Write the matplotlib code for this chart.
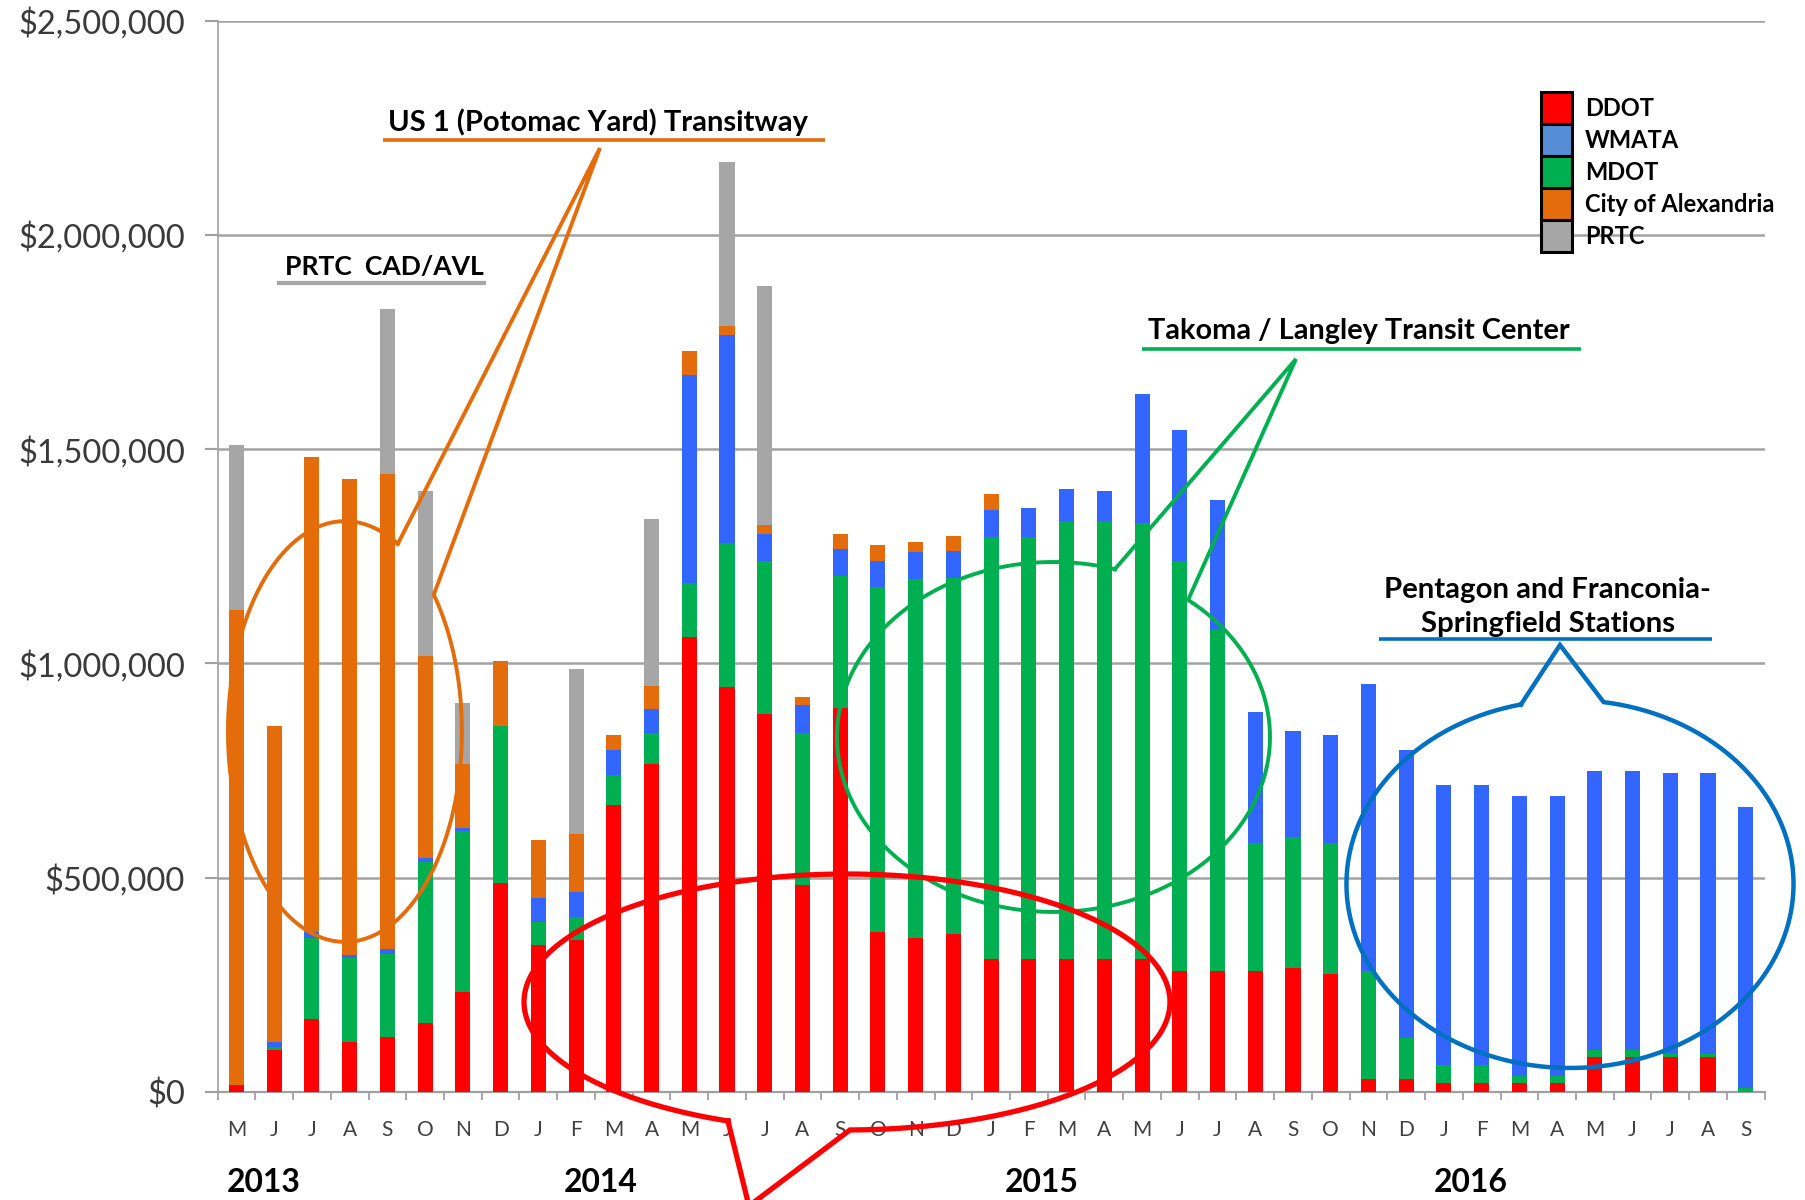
import numpy as np
import matplotlib
matplotlib.use("Agg")
import matplotlib.pyplot as plt
from matplotlib.patches import Patch
from matplotlib.ticker import FuncFormatter, FixedLocator

plt.rcParams['font.family'] = ['Lato', 'DejaVu Sans']

# ---------------- data (thousands of dollars) ----------------
months = ['M', 'J', 'J', 'A', 'S', 'O', 'N', 'D',
          'J', 'F', 'M', 'A', 'M', 'J', 'J', 'A', 'S', 'O', 'N', 'D',
          'J', 'F', 'M', 'A', 'M', 'J', 'J', 'A', 'S', 'O', 'N', 'D',
          'J', 'F', 'M', 'A', 'M', 'J', 'J', 'A', 'S']
years = ['2013', '2014', '2015', '2016']

ddot = [15, 98, 170, 116, 129, 161, 232, 488,
        342, 354, 670, 766, 1062, 944, 882, 482, 895, 373, 360, 368,
        311, 311, 311, 311, 311, 281, 281, 281, 288, 275, 29, 29,
        20, 20, 20, 20, 82, 82, 82, 82, 0]
mdot = [0, 6, 190, 196, 192, 375, 377, 366,
        54, 54, 70, 71, 125, 336, 358, 355, 309, 806, 838, 832,
        985, 985, 1021, 1021, 1017, 957, 797, 299, 306, 305, 252, 96,
        43, 43, 16, 16, 16, 16, 7, 7, 9]
wmata = [0, 12, 12, 8, 12, 10, 8, 0,
         57, 58, 59, 57, 487, 487, 61, 67, 63, 61, 63, 63,
         63, 67, 74, 70, 301, 307, 303, 306, 248, 253, 672, 672,
         654, 654, 654, 654, 650, 650, 655, 655, 656]
alexandria = [1110, 738, 1110, 1110, 1109, 472, 149, 152,
              135, 137, 34, 54, 54, 20, 22, 17, 36, 36, 22, 34,
              36, 0, 0, 0, 0, 0, 0, 0, 0, 0, 0, 0,
              0, 0, 0, 0, 0, 0, 0, 0, 0]
prtc = [384, 0, 0, 0, 386, 384, 142, 0,
        0, 384, 0, 388, 0, 384, 558, 0, 0, 0, 0, 0,
        0, 0, 0, 0, 0, 0, 0, 0, 0, 0, 0, 0,
        0, 0, 0, 0, 0, 0, 0, 0, 0]

series = [('DDOT', ddot, '#FF0000'),
          ('MDOT', mdot, '#00B050'),
          ('WMATA', wmata, '#3366FF'),
          ('City of Alexandria', alexandria, '#E46C0A'),
          ('PRTC', prtc, '#A6A6A6')]
legend_order = [('DDOT', '#FF0000'), ('WMATA', '#558ED5'), ('MDOT', '#00B050'),
                ('City of Alexandria', '#E46C0A'), ('PRTC', '#A6A6A6')]

# ---------------- figure ----------------
fig = plt.figure(figsize=(18.06, 12), dpi=100)
ax = fig.add_axes([0.1205, 0.0901, 0.8566, 0.89265])

x = np.arange(len(months))
bottom = np.zeros(len(months))
for name, vals, col in series:
    v = np.array(vals, dtype=float) * 1000
    ax.bar(x, v, width=0.4, bottom=bottom, color=col, linewidth=0, zorder=3)
    bottom += v

ax.set_xlim(-0.5, len(months) - 0.5)
ax.set_ylim(0, 2.5e6)
ax.set_yticks(np.arange(0, 2.5e6 + 1, 5e5))
ax.yaxis.set_major_formatter(FuncFormatter(lambda v, p: '${:,.0f}'.format(v)))
ax.yaxis.grid(True, color='#A3A3A3', linewidth=1.8, zorder=0)
ax.set_axisbelow(True)

for s in ['top', 'right']:
    ax.spines[s].set_visible(False)
ax.spines['left'].set_color('#A0A0A0')
ax.spines['left'].set_linewidth(1.2)
ax.spines['bottom'].set_color('#A0A0A0')
ax.spines['bottom'].set_linewidth(1.6)

ax.set_xticks(x)
ax.set_xticklabels(months)
ax.xaxis.set_minor_locator(FixedLocator(np.arange(-0.5, len(months), 1.0)))
ax.tick_params(axis='x', which='major', length=0, pad=20, labelsize=15,
               labelcolor='#404040')
ax.tick_params(axis='x', which='minor', length=6, width=1.3, color='#A0A0A0',
               direction='out')
ax.tick_params(axis='y', which='major', length=9.5, width=1.5, color='#A0A0A0',
               direction='out', labelsize=23.5, labelcolor='#3A3A3A', pad=14)

renderer = fig.canvas.get_renderer()


def fit(t, target_px):
    w = t.get_window_extent(renderer).width
    t.set_fontsize(t.get_fontsize() * target_px / w)
    return t.get_fontsize()


# year labels
year_x = [0.727, 9.659, 21.347, 32.717]
tr = ax.get_xaxis_transform()
yt = []
for yx, yl in zip(year_x, years):
    yt.append(ax.text(yx, -0.0932, yl, transform=tr, ha='center', va='baseline',
                      fontsize=24, fontweight='bold', color='black', clip_on=False))
fs = fit(yt[0], 74)
for t in yt:
    t.set_fontsize(fs)


# ---------------- annotations (speech bubbles) ----------------
def bubble(cx, cy, a, b, base1, tip, base2, color, lw):
    t1 = np.arctan2((base1[1] - cy) / b, (base1[0] - cx) / a)
    t2 = np.arctan2((base2[1] - cy) / b, (base2[0] - cx) / a)
    d = (t2 - t1) % (2 * np.pi)
    if d < np.pi:
        ts = np.linspace(t2, t1 + 2 * np.pi, 600)
    else:
        ts = np.linspace(t2, t2 - d, 600)
    px = [cx + a * np.cos(t1), tip[0], cx + a * np.cos(t2)] + list(cx + a * np.cos(ts))
    py = [cy + b * np.sin(t1), tip[1], cy + b * np.sin(t2)] + list(cy + b * np.sin(ts))
    ax.plot(px, py, color=color, lw=lw, clip_on=False, zorder=6,
            solid_joinstyle='miter')


def label(xc, yb, txt, target, color_line, x0, x1, yl, lw=2.6):
    t = ax.text(xc, yb, txt, ha='center', va='baseline', fontsize=20,
                fontweight='bold', color='black', zorder=7, clip_on=False)
    fit(t, target)
    ax.plot([x0, x1], [yl, yl], color=color_line, lw=lw, clip_on=False,
            zorder=7, solid_capstyle='butt')
    return t


# US 1 (Potomac Yard) Transitway
bubble(2.874, 841e3, 3.10, 491e3, (4.252, 1271.7e3), (9.633, 2202.9e3),
       (5.206, 1157.3e3), '#E46C0A', 2.8)
label(9.593, 2241.8e3, 'US 1 (Potomac Yard) Transitway', 419, '#E46C0A',
      3.881, 15.596, 2221.6e3)

# PRTC CAD/AVL
label(3.921, 1906.9e3, 'PRTC  CAD/AVL', 199, '#A6A6A6', 1.072, 6.611, 1887.8e3, lw=3.0)

# Takoma / Langley Transit Center
bubble(21.652, 828.3e3, 5.738, 408.4e3, (23.282, 1220.4e3), (28.079, 1710.4e3),
       (25.244, 1150.3e3), '#00B050', 2.8)
label(29.736, 1757.8e3, 'Takoma / Langley Transit Center', 421, '#00B050',
      23.997, 35.633, 1733.8e3)

# Red bubble (pointing down, below the chart)
bubble(16.18, 209.8e3, 8.56, 298.7e3, (13.025, -67.9e3), (13.581, -266.3e3),
       (16.258, -88.9e3), '#FF0000', 3.8)

# Pentagon and Franconia-Springfield Stations
bubble(35.341, 485.2e3, 5.924, 429.4e3, (34.016, 912.3e3), (35.076, 1043.0e3),
       (36.243, 914.6e3), '#0070C0', 3.2)
t1 = ax.text(34.75, 1152.6e3, 'Pentagon and Franconia-', ha='center', va='baseline',
             fontsize=20, fontweight='bold', color='black', zorder=7, clip_on=False)
fs = fit(t1, 328)
ax.text(34.75, 1072.2e3, 'Springfield Stations', ha='center', va='baseline',
        fontsize=fs, fontweight='bold', color='black', zorder=7, clip_on=False)
ax.plot([30.279, 39.105], [1057.9e3, 1057.9e3], color='#0070C0', lw=2.6,
        clip_on=False, zorder=7, solid_capstyle='butt')

# ---------------- legend ----------------
handles = [Patch(facecolor=c, edgecolor='black', linewidth=2.2, label=n)
           for n, c in legend_order]
leg = fig.legend(handles=handles, loc='upper left',
                 bbox_to_anchor=(1541 / 1806, 1 - 92 / 1200),
                 bbox_transform=fig.transFigure, frameon=False,
                 prop=dict(weight='bold', size=17),
                 handlelength=1.31, handleheight=1.71, labelspacing=0,
                 handletextpad=0.55, borderpad=0, borderaxespad=0)

fig.savefig('out.png', dpi=100)
